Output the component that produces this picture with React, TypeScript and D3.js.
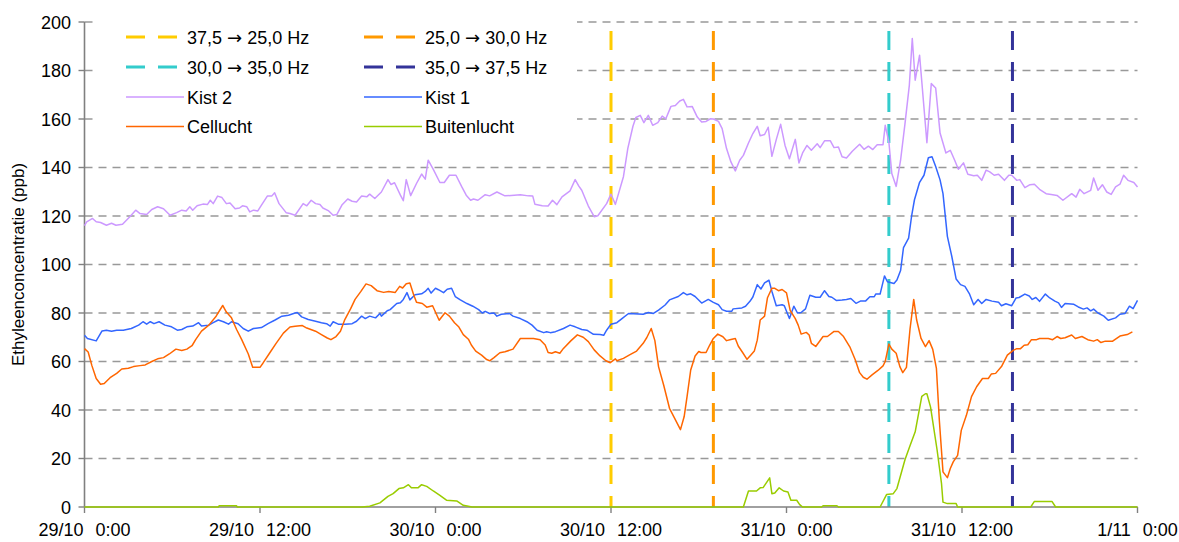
import React from "react";
import * as d3 from "d3";

// ---------- data (hours since 29/10 0:00, ethylene ppb) ----------
const kist2: [number, number][] = [
[0,116],[0.15,117.6],[0.55,119],[0.8,117.6],[1.1,117.3],[1.5,116.2],[1.85,117],[2.15,116.2],[2.6,116.6],[3.1,119.7],[3.5,122.4],[3.8,121],[4.25,120.6],[4.6,122.7],[5.0,123.8],[5.4,123],[5.85,120.3],[6.3,121.4],[6.65,122.4],[6.95,122.1],[7.2,123.8],[7.4,122.4],[7.7,124.2],[8.1,124.9],[8.4,124.7],[8.6,126.5],[8.8,125.1],[9.1,128.2],[9.4,127.6],[9.7,125.1],[9.95,125.4],[10.3,123],[10.6,123.3],[10.8,124.2],[11.1,123.8],[11.3,121.7],[11.55,122.4],[11.85,122.1],[12.1,124.5],[12.5,128.2],[12.8,128.2],[13.0,129.6],[13.3,125.1],[13.8,121.3],[14.05,121],[14.4,120.3],[14.95,125.1],[15.2,124.2],[15.5,126.5],[15.8,125.1],[16.1,124.7],[16.3,123.3],[16.7,122.1],[17.0,120.3],[17.25,120.6],[17.6,124.5],[18.0,127],[18.3,126.1],[18.6,125.8],[18.95,128.2],[19.3,127.9],[19.5,129],[19.85,127.2],[20.3,129.9],[20.75,135],[20.95,133],[21.2,133.7],[21.6,128.6],[21.8,126.3],[22.0,135],[22.3,128.4],[22.7,133.4],[23.05,137.3],[23.3,135.2],[23.5,143],[23.85,139.2],[24.3,133.8],[24.6,133.8],[24.95,136.8],[25.4,136.8],[25.8,132],[26.1,128.6],[26.4,126.5],[26.6,127],[26.9,126.5],[27.4,128.8],[27.7,128.3],[28.2,129.9],[28.75,128.3],[29.8,128.8],[30.35,128.3],[30.65,128.2],[30.8,124.8],[31.3,124.2],[31.7,124.1],[32.0,126.5],[32.3,124.7],[32.65,127.9],[33.2,130.4],[33.55,135],[33.8,132.3],[34.0,130.6],[34.45,124.1],[34.85,119.7],[35.1,120.1],[35.7,125.1],[36.0,129],[36.3,124.8],[36.85,136.2],[37.15,147.9],[37.5,157],[37.7,160.6],[38.0,161.5],[38.25,158.5],[38.55,161.5],[38.85,157.4],[39.2,158.5],[39.5,161.2],[39.75,160.1],[40.1,165.2],[40.4,165.6],[40.7,167.4],[40.95,168.1],[41.2,165],[41.55,165.2],[41.9,160.8],[42.2,158.8],[42.5,159],[42.8,160.1],[43.0,160],[43.35,159],[43.6,156],[43.9,147.8],[44.2,142.3],[44.5,138.6],[44.8,143],[45.05,145],[45.4,150.1],[45.7,154],[46.0,157],[46.2,153.1],[46.5,153.6],[46.75,156.6],[47.0,144.6],[47.3,151.5],[47.6,157.8],[47.9,149.1],[48.2,143.6],[48.6,151.6],[48.85,141.9],[49.1,146],[49.4,149.1],[49.7,147.1],[50.1,149.8],[50.3,148.2],[50.6,151],[51.0,151],[51.25,148.2],[51.55,148.5],[51.8,144.4],[52.1,143.9],[52.5,146.7],[53.0,149.6],[53.3,147.5],[53.6,148.8],[53.9,147.4],[54.2,149.4],[54.6,149.4],[54.75,157.4],[55.0,150.5],[55.2,137.5],[55.5,132.2],[55.8,143],[56.1,158],[56.4,174],[56.6,193.2],[56.8,176],[57.1,186.3],[57.6,150.2],[57.9,174.6],[58.2,172.8],[58.5,154.2],[58.9,146],[59.2,147.1],[59.5,143],[59.75,139.3],[60.1,141.9],[60.4,137.2],[60.8,136.6],[61.05,136.8],[61.35,134.7],[61.65,138.9],[61.9,138.2],[62.2,136.8],[62.5,137.2],[62.9,134.7],[63.2,136.8],[63.4,136.8],[63.75,134.7],[63.95,135],[64.3,131.7],[64.65,132.9],[64.95,133.1],[65.3,131],[65.75,129.2],[66.1,128.9],[66.5,128.5],[66.9,126.5],[67.5,129.2],[67.8,127.8],[68.05,131],[68.35,129.2],[68.8,130.6],[69.0,135.7],[69.3,130.6],[69.6,132.9],[69.9,129.9],[70.2,128.9],[70.5,132],[70.8,133.1],[71.05,136.8],[71.35,134.7],[71.75,133.8],[72,132]
];

const kist1: [number, number][] = [
[0,70.8],[0.2,69.5],[0.8,68.5],[1.2,72.6],[1.5,72.9],[1.85,72.5],[2.2,72.9],[2.65,72.9],[3.2,73.6],[3.7,75],[4.0,76.4],[4.25,75.4],[4.5,76.4],[4.75,75.6],[5.1,76.4],[5.5,75],[5.95,74.3],[6.35,72.9],[6.65,73.2],[7.0,74.3],[7.4,74.6],[7.8,76],[8.0,74.6],[8.5,75],[8.8,76],[9.15,77.1],[9.5,76.4],[9.85,75.4],[10.05,76.4],[10.5,75.6],[10.85,73.6],[11.2,72.5],[11.55,73.6],[12.1,74],[12.55,75.6],[13.0,77],[13.5,78.7],[13.95,79.1],[14.4,80],[14.55,80.2],[14.85,78.4],[15.3,77.3],[15.8,76.6],[16.2,76],[16.55,75.6],[16.8,74.6],[17.0,76.4],[17.35,75.4],[17.8,75.4],[18.3,75.6],[18.6,76.6],[18.95,78.7],[19.2,77.7],[19.5,78.7],[19.9,78],[20.2,79.8],[20.3,78.7],[20.7,80.9],[20.9,81.4],[21.35,83.9],[21.6,84.2],[21.8,85.6],[22.05,88.4],[22.25,85.4],[22.6,87.5],[23.05,87.9],[23.3,88.9],[23.5,90.2],[23.7,88.2],[24.0,90.2],[24.2,89.6],[24.55,88.4],[24.8,89.8],[25.1,90.2],[25.35,86.8],[25.7,85.4],[26.15,83.9],[26.55,82.8],[26.95,81.4],[27.2,80],[27.4,80.7],[27.7,79.8],[28.0,80],[28.2,78.7],[28.5,79.5],[29.05,79.8],[29.3,78.7],[29.8,77.7],[30.25,76.4],[30.6,75],[30.95,72.9],[31.4,71.9],[31.6,72.3],[31.85,71.9],[32.2,72.3],[32.75,73.6],[33.2,75],[33.55,74.3],[34.0,73.2],[34.35,72.9],[34.8,71.2],[35.25,71.1],[35.5,70.8],[35.7,72.9],[36.0,75.4],[36.4,76],[36.75,77.7],[37.2,79.8],[38.2,79.5],[38.55,80.2],[38.9,79.8],[39.25,81.2],[39.7,83.3],[40.0,85.4],[40.6,86.8],[40.95,88.4],[41.2,87.5],[41.45,87.9],[41.75,86.8],[42.2,84.1],[42.65,85.6],[43.0,84.4],[43.35,83.4],[43.6,81.4],[43.9,80.7],[44.25,80.7],[44.35,81.7],[44.95,82.1],[45.2,82.8],[45.5,84.8],[45.7,86.6],[46.0,91.7],[46.25,89.9],[46.5,92.4],[46.8,93.5],[47.0,89],[47.3,83],[47.7,83.4],[47.85,83],[48.2,77.7],[48.5,82.8],[48.75,80],[49.0,80.2],[49.3,81.7],[49.6,87.3],[50.0,86.5],[50.3,86.5],[50.6,89.2],[50.9,86.8],[51.1,86.5],[51.4,85.2],[51.8,85.4],[52.1,85.6],[52.4,86],[52.75,84],[53.05,84.9],[53.4,84.9],[53.7,86.7],[54.0,86.7],[54.1,87.8],[54.4,87.8],[54.7,95.3],[54.9,92.9],[55.35,92.2],[55.55,93.6],[55.8,97.5],[56.0,107],[56.35,110.9],[56.55,119.8],[56.75,126.7],[57.1,133.9],[57.4,136.8],[57.7,144],[57.95,144.4],[58.2,140.4],[58.5,134.9],[58.7,129.2],[59.0,111.6],[59.3,103.4],[59.6,94],[59.9,91.7],[60.2,91],[60.5,88],[60.8,83.4],[61.1,85.6],[61.35,83.9],[61.65,85.6],[62.05,84.9],[62.5,84.4],[62.7,83],[63.0,83.8],[63.4,83],[63.7,86.2],[63.9,86.4],[64.3,87.8],[64.6,87],[64.8,85.6],[65.05,86.4],[65.3,84.8],[65.7,87.8],[66.0,86.2],[66.35,84.9],[66.6,84.2],[66.8,82.3],[67.05,83.9],[67.65,83.6],[67.95,82.5],[68.3,81.6],[68.55,82.1],[68.8,80.9],[69.0,81.6],[69.3,80],[69.7,78.7],[70.0,77],[70.5,78],[70.8,79.5],[71.15,79.8],[71.45,82.8],[71.7,81.8],[72,85.2]
];

const cellucht: [number, number][] = [
[0,65.3],[0.25,63.9],[0.5,58.4],[0.8,53],[1.1,50.6],[1.35,50.9],[1.75,53.3],[2.2,55.1],[2.55,56.9],[3.0,57.2],[3.35,57.9],[3.8,58.3],[4.15,58.6],[4.6,60],[5.0,61.1],[5.4,61.6],[5.8,63.1],[6.25,65.1],[6.65,64.5],[7.0,65.1],[7.35,66.5],[7.6,69],[8.0,72.5],[8.5,75],[9.0,78.7],[9.45,83.1],[9.7,80.4],[10.05,78],[10.4,73.2],[10.75,69],[11.2,63.1],[11.5,57.6],[12.0,57.6],[12.2,59.3],[12.65,63.4],[13.1,67.5],[13.6,71.7],[14.05,74.2],[14.4,74.5],[14.9,74.8],[15.2,73.8],[15.8,72.5],[16.2,71.1],[16.6,69.7],[16.85,69],[17.2,70.3],[17.5,72.5],[17.8,77.3],[18.2,81.8],[18.5,85.6],[18.9,88.9],[19.25,92],[19.6,91.3],[20.0,89.2],[20.45,88.5],[20.8,88.9],[21.25,88.5],[21.55,91],[21.75,90.3],[22.0,92.1],[22.25,92.4],[22.5,87.6],[22.7,84.4],[23.1,83.9],[23.4,82.4],[23.8,83],[24.25,77],[24.65,80.1],[24.95,78.7],[25.3,76],[25.6,74.2],[25.9,71.1],[26.25,69.2],[26.45,66.8],[26.75,64.3],[27.15,62.6],[27.5,60.8],[27.7,60.3],[28.0,61.6],[28.4,63.6],[28.75,64],[29.3,65.1],[29.8,69.5],[30.25,69.5],[30.7,69.5],[31.15,69],[31.5,66.8],[31.7,63.7],[31.95,63.4],[32.2,64],[32.5,63.4],[32.75,65.4],[33.25,68.5],[33.7,71],[34.1,70],[34.45,68.2],[34.85,64.8],[35.25,62.3],[35.65,60.3],[35.95,59.5],[36.3,61.1],[36.4,60.3],[36.85,61.3],[37.3,62.8],[37.75,64.3],[38.2,67.5],[38.45,69.9],[38.75,73.6],[39.0,68.6],[39.25,57.9],[39.6,50.3],[40.0,40.7],[40.3,37.2],[40.75,31.9],[41.0,37.2],[41.2,45.5],[41.45,56.5],[41.75,62.3],[42.0,64.1],[42.15,63.7],[42.5,63.7],[42.75,66.8],[43.0,69.5],[43.3,71.3],[43.65,70.2],[43.9,68.6],[44.2,69.1],[44.5,69.5],[44.7,66.4],[45.0,63.7],[45.3,60.9],[45.55,62.6],[45.8,64.3],[46.0,68.8],[46.2,77.1],[46.5,78.7],[46.7,86.3],[47.0,90.2],[47.2,90.2],[47.45,89.2],[47.7,89.7],[48.0,88.3],[48.25,81.1],[48.6,77.7],[48.8,75],[49.0,71.3],[49.35,72],[49.55,70.9],[49.7,67.5],[50.0,66.2],[50.5,70.3],[50.8,70.3],[51.25,72.4],[51.55,72.4],[51.9,70.3],[52.35,65.8],[52.7,60.7],[53.0,55.4],[53.25,53.5],[53.5,52.7],[53.85,54.5],[54.25,56.3],[54.6,58.2],[54.75,60],[54.85,62.8],[55.0,67.2],[55.2,65.1],[55.5,63.4],[55.75,57.9],[55.95,55.4],[56.2,57.6],[56.45,73.6],[56.7,85.6],[56.9,77.1],[57.2,69.5],[57.5,66.1],[57.75,68.6],[58.0,65],[58.25,57.2],[58.45,35.8],[58.7,14.5],[59.0,12.1],[59.2,15.9],[59.4,18.6],[59.7,21.3],[59.95,31.6],[60.3,37.8],[60.65,45.5],[61.0,49.6],[61.4,53],[61.8,53],[62.0,54.8],[62.3,55.1],[62.7,57.9],[63.1,62.6],[63.5,64.6],[63.75,65.3],[64.0,65.3],[64.25,66.7],[64.5,66.9],[64.75,69],[65.1,69],[65.3,69.5],[65.9,69.5],[66.2,69],[66.5,70.3],[66.75,69.5],[67.05,69.8],[67.5,70.9],[67.75,69.5],[68.2,70.3],[68.6,69],[69.0,68.4],[69.25,69],[69.5,67.8],[69.8,68.4],[70.3,68.4],[70.8,70.5],[71.3,71.1],[71.65,72.2]
];

const buitenlucht: [number, number][] = [
[0,0],[9.15,0],[9.2,0.5],[10.4,0.5],[10.45,0],[19.0,0],[19.5,0.3],[20.2,1.7],[20.75,4.4],[21.1,5.5],[21.5,7.6],[21.8,7.9],[22.15,9.2],[22.35,7.9],[22.8,7.9],[23.05,9.2],[23.4,8.5],[23.85,6.6],[24.3,4.8],[24.75,2.8],[25.45,2.5],[25.9,0.7],[26.5,0],[45.05,0],[45.4,6.6],[45.95,6.6],[46.2,7.9],[46.4,8],[46.85,12],[47.0,5.5],[47.2,5.8],[47.5,7.9],[47.8,6.6],[48.1,6.2],[48.3,2.8],[48.7,2.8],[48.9,1],[49.1,0],[50.4,0],[50.5,0.5],[51.45,0.5],[51.55,0],[54.4,0],[54.85,5.2],[55.3,5.5],[55.55,7.6],[56.1,19.5],[56.45,25.4],[56.8,31],[57.25,45.6],[57.5,46.7],[57.6,46.7],[57.85,41.2],[58.3,23.4],[58.6,9.6],[58.7,2],[59.0,1.4],[59.6,1.4],[59.7,0],[64.7,0],[64.95,2.3],[66.15,2.3],[66.4,0],[72,0]
];

// frequency switch moments (hours)
const switchHours = [36, 43, 55, 63.45];
const switchFrom = ["37,5", "25,0", "30,0", "35,0"];
const switchTo = ["25,0 Hz", "30,0 Hz", "35,0 Hz", "37,5 Hz"];
const switchColors = ["#FFCC00", "#FF9900", "#33CCCC", "#333399"];

const seriesNames = ["Kist 2", "Kist 1", "Cellucht", "Buitenlucht"];
const seriesColors = ["#CC99FF", "#3366FF", "#FF6600", "#99CC00"];

const yTicks = [0, 20, 40, 60, 80, 100, 120, 140, 160, 180, 200];
const xTickHours = [0, 12, 24, 36, 48, 60, 72];
const xTickDates = ["29/10", "29/10", "30/10", "30/10", "31/10", "31/10", "1/11"];
const xTickTimes = ["0:00", "12:00", "0:00", "12:00", "0:00", "12:00", "0:00"];

const yTitle = "Ethyleenconcentratie (ppb)";

export default function App() {
  const W = 1179, H = 542;
  const left = 84.5, right = 1137.5, top = 22, bottom = 507;
  const x = d3.scaleLinear().domain([0, 72]).range([left, right]);
  const y = d3.scaleLinear().domain([0, 200]).range([bottom, top]);
  const line = d3.line<[number, number]>().x(d => x(d[0])).y(d => y(d[1]));
  const font = "'Liberation Sans', Arial, sans-serif";
  const fs = 18;
  const allSeries = [kist2, kist1, cellucht, buitenlucht];

  const legendRows = [
    { kind: "dash", idx: [0, 1] },
    { kind: "dash", idx: [2, 3] },
    { kind: "solid", idx: [0, 1] },
    { kind: "solid", idx: [2, 3] },
  ];
  const rowY = [37, 67, 97, 126.5];
  const colX = [126, 364];

  return (
    <div style={{ position: "absolute", left: 0, top: 0, width: W, height: H }}>
      <svg width={W} height={H} style={{ display: "block", background: "#fff", fontFamily: font }}>
        {/* gridlines */}
        {yTicks.filter(t => t > 0).map(t => (
          <line key={"g" + t} x1={left} x2={right} y1={y(t)} y2={y(t)} stroke="#999" strokeWidth={1.4} strokeDasharray="8,6" />
        ))}
        {/* frequency switch lines */}
        {switchHours.map((h, i) => (
          <line key={"s" + i} x1={x(h)} x2={x(h)} y1={31} y2={bottom} stroke={switchColors[i]} strokeWidth={3} strokeDasharray="19,12" />
        ))}
        {/* axes */}
        <line x1={left} x2={left} y1={top} y2={bottom} stroke="#808080" strokeWidth={1.6} />
        <line x1={left} x2={right} y1={bottom} y2={bottom} stroke="#808080" strokeWidth={1.6} />
        {yTicks.map(t => (
          <g key={"yt" + t}>
            <line x1={left - 6} x2={left} y1={y(t)} y2={y(t)} stroke="#808080" strokeWidth={1.4} />
            <text x={71} y={y(t) + 6.5} textAnchor="end" fontSize={fs} fill="#000">{t}</text>
          </g>
        ))}
        {xTickHours.map((h, i) => (
          <g key={"xt" + h}>
            <line x1={x(h)} x2={x(h)} y1={bottom} y2={bottom + 6} stroke="#808080" strokeWidth={1.4} />
            <text x={x(h)} y={536} textAnchor="middle" fontSize={fs} fill="#000">
              <tspan>{xTickDates[i]}</tspan>
              <tspan dx={12}>{xTickTimes[i]}</tspan>
            </text>
          </g>
        ))}
        {/* series */}
        {allSeries.map((s, i) => (
          <path key={"p" + i} d={line(s) || ""} fill="none" stroke={seriesColors[i]} strokeWidth={1.5} strokeLinejoin="round" />
        ))}
        {/* y title */}
        <text transform={`translate(24,${(top + bottom) / 2}) rotate(-90)`} textAnchor="middle" fontSize={17} fill="#000">{yTitle}</text>
        {/* legend */}
        <rect x={93} y={12} width={484} height={134} fill="#fff" />
        {legendRows.map((r, ri) => r.idx.map((k, ci) => {
          const lx = colX[ci];
          const ly = rowY[ri];
          const isDash = r.kind === "dash";
          const color = isDash ? switchColors[k] : seriesColors[k];
          return (
            <g key={`l${ri}-${ci}`}>
              {isDash ? (
                <line x1={lx} x2={lx + 51} y1={ly} y2={ly} stroke={color} strokeWidth={3} strokeDasharray="19,13" />
              ) : (
                <line x1={lx} x2={lx + 58} y1={ly} y2={ly} stroke={color} strokeWidth={1.5} />
              )}
              <text x={lx + 61} y={ly + 6.5} fontSize={fs} fill="#000">
                {isDash ? (
                  <>
                    <tspan>{switchFrom[k]} </tspan>
                    <tspan fontFamily="'DejaVu Sans', sans-serif">{"\u2192"}</tspan>
                    <tspan> {switchTo[k]}</tspan>
                  </>
                ) : seriesNames[k]}
              </text>
            </g>
          );
        }))}
      </svg>
    </div>
  );
}
